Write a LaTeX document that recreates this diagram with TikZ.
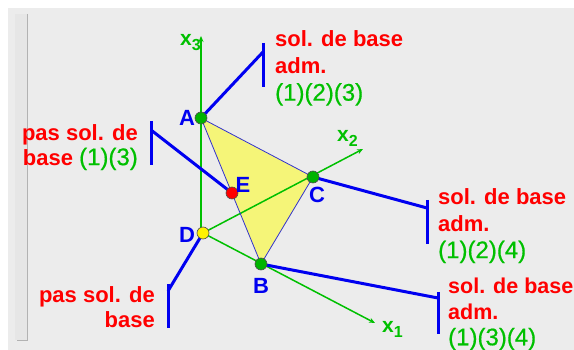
\documentclass[tikz,border=0pt]{standalone}
\usepackage{fontspec}
\setmainfont{Liberation Sans}
\newfontfamily\grnfont[FakeBold=0.6]{Liberation Sans}
\usetikzlibrary{arrows.meta}
\definecolor{bgc}{HTML}{ECECEC}
\definecolor{stripc}{HTML}{E6E6E6}
\definecolor{gr}{HTML}{00C000}
\definecolor{ptg}{HTML}{00B400}
\definecolor{blu}{HTML}{0000F0}
\definecolor{tri}{HTML}{F5F578}
\tikzset{
  axisline/.style={draw=gr,line width=1.5pt,-{Stealth[length=6pt,width=5pt]}},
  leader/.style={draw=blu,line width=3pt},
  edgeline/.style={draw=blue!60!gray,line width=0.8pt},
  pt/.style={circle,draw=black!70,line width=0.6pt,inner sep=0pt,minimum size=12pt},
  ptlabel/.style={text=blu,font=\fontsize{22}{22}\bfseries\selectfont,inner sep=0pt},
  axlabel/.style={text=gr,font=\fontsize{21}{21}\bfseries\selectfont,inner sep=0pt},
  txt/.style={text=red,font=\fontsize{22}{27}\bfseries\selectfont,inner sep=0pt,anchor=north west,align=left},
  txtl/.style={text=red,font=\fontsize{22}{25}\bfseries\selectfont,inner sep=0pt,anchor=north east,align=right}
}
\newcommand{\axsub}[1]{\raisebox{-5pt}{\fontsize{16}{16}\selectfont #1}}
\newcommand{\grn}[1]{\textcolor{gr}{\grnfont\fontsize{24}{24}\mdseries\selectfont #1}}
\begin{document}
\begin{tikzpicture}[x=1pt,y=-1pt]
\useasboundingbox (0,0) rectangle (574,350);
\fill[white] (0,0) rectangle (574,350);
\fill[bgc] (8,8) rectangle (574,350);
\fill[stripc] (15,14) rectangle (27,340);
\draw[gray!60,line width=0.6pt] (27,14) -- (27,340) -- (17,340);
% coordinates
\coordinate (Ap) at (201,118);
\coordinate (Bp) at (261,264);
\coordinate (Cp) at (313,177);
\coordinate (Dp) at (203,233);
\coordinate (Dv) at (201,233);
\coordinate (Ep) at (232,193);
\coordinate (x3e) at (201,36);
\coordinate (x2e) at (363,149);
\coordinate (x1e) at (375,323);
% triangle
\fill[tri] (Ap) -- (Bp) -- (Cp) -- cycle;
% axes
\draw[axisline,line width=2pt] (Dv) -- (x3e);
\draw[axisline] (Dp) -- (x2e);
\draw[axisline] (Dp) -- (x1e);
\draw[edgeline] (Ap) -- (Bp) -- (Cp) -- cycle;
% leaders
\coordinate (la) at (263,52);
\coordinate (lat) at (263,43);
\coordinate (lab) at (263,87);
\coordinate (le) at (151,130);
\coordinate (let) at (151,121);
\coordinate (leb) at (151,165);
\coordinate (lc) at (427,208);
\coordinate (lct) at (427,200);
\coordinate (lcb) at (427,244);
\coordinate (lb) at (438,298);
\coordinate (lbt) at (438,292);
\coordinate (lbb) at (438,334);
\coordinate (ld) at (168,291);
\coordinate (ldt) at (168,284);
\coordinate (ldb) at (168,328);
\draw[leader] (Ap) -- (la);
\draw[leader] (lat) -- (lab);
\draw[leader] (Ep) -- (le);
\draw[leader] (let) -- (leb);
\draw[leader] (Cp) -- (lc);
\draw[leader] (lct) -- (lcb);
\draw[leader] (Bp) -- (lb);
\draw[leader] (lbt) -- (lbb);
\draw[leader] (Dp) -- (ld);
\draw[leader] (ldt) -- (ldb);
% points
\node[pt,fill=ptg] (A) at (Ap) {};
\node[pt,fill=ptg] (B) at (Bp) {};
\node[pt,fill=ptg] (C) at (Cp) {};
\node[pt,fill=yellow] (D) at (Dp) {};
\node[pt,fill=red] (E) at (Ep) {};
% point labels
\node[ptlabel] (la1) at (187,118) {A};
\node[ptlabel] (lb1) at (261,286) {B};
\node[ptlabel] (lc1) at (317,195) {C};
\node[ptlabel] (ld1) at (187,235) {D};
\node[ptlabel] (le1) at (243,185) {E};
% axis labels
\node[axlabel,anchor=base west] (x3) at (180,46) {x\axsub{3}};
\node[axlabel,anchor=base west] (x2) at (337,142) {x\axsub{2}};
\node[axlabel,anchor=base west] (x1) at (382,333) {x\axsub{1}};
% texts
\node[txt] (t1) at (275,30.5) {sol. de base\\adm.\\\grn{(1)(2)(3)}};
\node[txt] (t2) at (438,188) {sol. de base\\adm.\\\grn{(1)(2)(4)}};
\node[txt,font=\fontsize{21.5}{26}\bfseries\selectfont] (t3) at (448,277.5) {sol. de base\\adm.\\\grn{(1)(3)(4)}};
\node[txtl] (t4) at (138,124) {pas sol. de\\base \grn{(1)(3)}};
\node[txtl] (t5) at (155,286) {pas sol. de\\base};
\end{tikzpicture}
\end{document}
